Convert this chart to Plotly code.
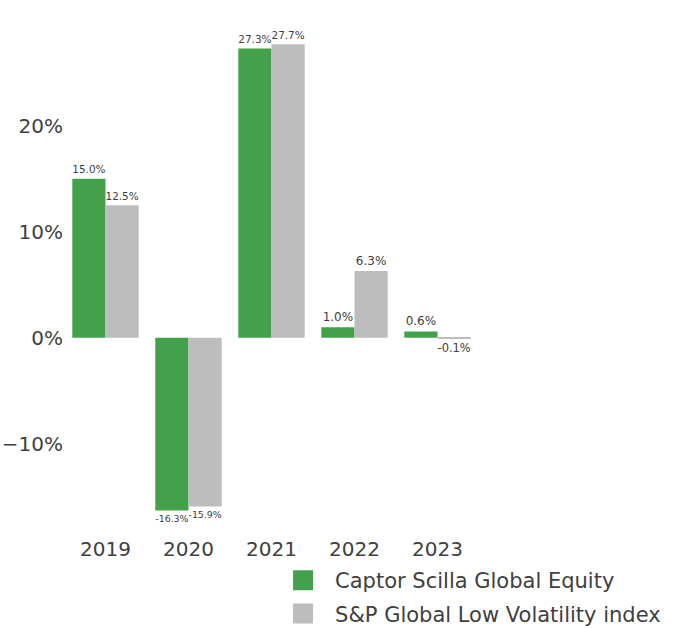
import plotly.graph_objects as go

years = ["2019", "2020", "2021", "2022", "2023"]
fund = [15.0, -16.3, 27.3, 1.0, 0.6]
index = [12.5, -15.9, 27.7, 6.3, -0.1]

fund_name = "Captor Scilla Global Equity"
index_name = "S&P Global Low Volatility index"

GREEN = "#43a04b"
GREY = "#bdbdbd"
TEXT = "#404040"
FONT = "DejaVu Sans"

fig = go.Figure()
fig.add_trace(go.Bar(
    x=years, y=fund, name=fund_name, marker_color=GREEN,
    text=[f"{v:.1f}%" for v in fund], textposition="outside",
    cliponaxis=False, showlegend=False,
))
fig.add_trace(go.Bar(
    x=years, y=index, name=index_name, marker_color=GREY,
    text=[f"{v:.1f}%" for v in index], textposition="outside",
    cliponaxis=False, showlegend=False,
))

# legend entries with bigger square swatches
for name, col in [(fund_name, GREEN), (index_name, GREY)]:
    fig.add_trace(go.Scatter(
        x=[None], y=[None], mode="markers", name=name, legendgroup=name,
        marker=dict(symbol="square", size=16, color=col, line=dict(width=4, color=col)),
    ))

fig.update_traces(textfont=dict(size=12, color=TEXT), marker_line_width=0,
                  selector=dict(type="bar"))

fig.update_layout(
    width=700, height=628,
    barmode="group", bargap=0.2, bargroupgap=0,
    paper_bgcolor="white", plot_bgcolor="white",
    font=dict(family=FONT, color=TEXT, size=20),
    margin=dict(l=64, r=221, t=24, b=93, autoexpand=False),
    legend=dict(
        x=0.499, y=-0.049, xanchor="left", yanchor="top",
        orientation="v", font=dict(size=21, color=TEXT, family=FONT),
        bgcolor="rgba(0,0,0,0)", itemwidth=54, tracegroupgap=3,
        traceorder="grouped",
    ),
)
fig.update_xaxes(showgrid=False, showline=False, ticks="", tickfont=dict(size=20), automargin=False)
fig.update_yaxes(
    range=[-18.6, 29.6], dtick=10, ticksuffix="%",
    showgrid=False, zeroline=False, showline=False, tickfont=dict(size=20),
    automargin=False,
)

# drop the default 8px page margin so the figure fills the window
fig.write_html("out.html", config={"displayModeBar": False},
               post_script="document.body.style.margin='0';")
